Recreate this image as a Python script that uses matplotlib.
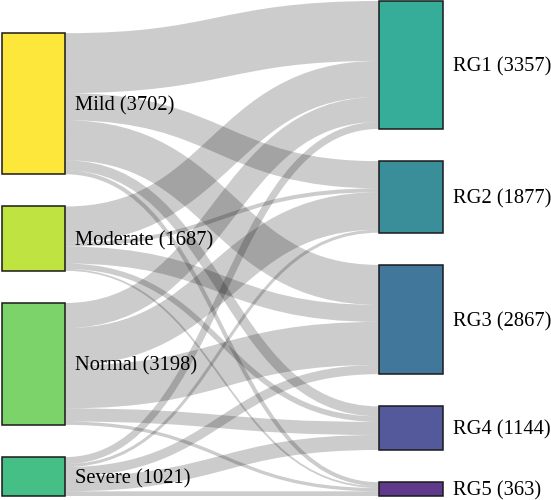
import matplotlib
matplotlib.use("Agg")
import matplotlib.pyplot as plt
from matplotlib.path import Path
from matplotlib.patches import PathPatch, Rectangle

# data
sources = ["Mild", "Moderate", "Normal", "Severe"]
targets = ["RG1", "RG2", "RG3", "RG4", "RG5"]
# rows = sources, cols = targets
flows = [
    [1572, 712, 1050, 263, 105],
    [945, 105, 446, 144, 47],
    [656, 981, 1129, 344, 88],
    [184, 79, 242, 393, 123],
]
source_colors = ["#fde73a", "#bfe340", "#7bd36a", "#45bf85"]
target_colors = ["#36ad98", "#3a8e9a", "#42779c", "#53599a", "#5f3a8c"]

src_tot = [sum(r) for r in flows]
tgt_tot = [sum(flows[i][j] for i in range(len(sources))) for j in range(len(targets))]
total = sum(src_tot)

# layout in pixel units
W, H = 551, 500
top, bottom, gap = 1, 496, 32.2
ky = (bottom - top - gap * (len(targets) - 1)) / total
lx0, lx1 = 2, 65
rx0, rx1 = 379, 443

fig = plt.figure(figsize=(W / 100, H / 100), dpi=100)
ax = fig.add_axes([0, 0, 1, 1])
ax.set_xlim(0, W)
ax.set_ylim(H, 0)
ax.axis("off")

# node positions
ty0 = []
y = top
for v in tgt_tot:
    ty0.append(y)
    y += v * ky + gap
sy0 = []
y = bottom - (total * ky + gap * (len(sources) - 1))
for v in src_tot:
    sy0.append(y)
    y += v * ky + gap

# links
src_off = list(sy0)
tgt_off = list(ty0)
xm = (lx1 + rx0) / 2
for i in range(len(sources)):
    for j in range(len(targets)):
        w = flows[i][j] * ky
        ys = src_off[i] + w / 2
        src_off[i] += w
        yt = tgt_off[j] + w / 2
        tgt_off[j] += w
        p = Path([(lx1, ys), (xm, ys), (xm, yt), (rx0, yt)],
                 [Path.MOVETO, Path.CURVE4, Path.CURVE4, Path.CURVE4])
        ax.add_patch(PathPatch(p, fill=False, edgecolor=(0, 0, 0, 0.2),
                               lw=w * 0.72, capstyle="butt"))

# nodes + labels
font = dict(family="Liberation Serif", fontsize=14.8, va="center")
for i, name in enumerate(sources):
    h = src_tot[i] * ky
    ax.add_patch(Rectangle((lx0, sy0[i]), lx1 - lx0, h, facecolor=source_colors[i],
                           edgecolor="#1a1a1a", lw=1.1))
    ax.text(lx1 + 10, sy0[i] + h / 2 + 2, f"{name} ({src_tot[i]})", **font)
for j, name in enumerate(targets):
    h = tgt_tot[j] * ky
    ax.add_patch(Rectangle((rx0, ty0[j]), rx1 - rx0, h, facecolor=target_colors[j],
                           edgecolor="#1a1a1a", lw=1.1))
    ax.text(rx1 + 10, ty0[j] + h / 2 + 2, f"{name} ({tgt_tot[j]})", **font)

fig.savefig("out.png", dpi=100)
